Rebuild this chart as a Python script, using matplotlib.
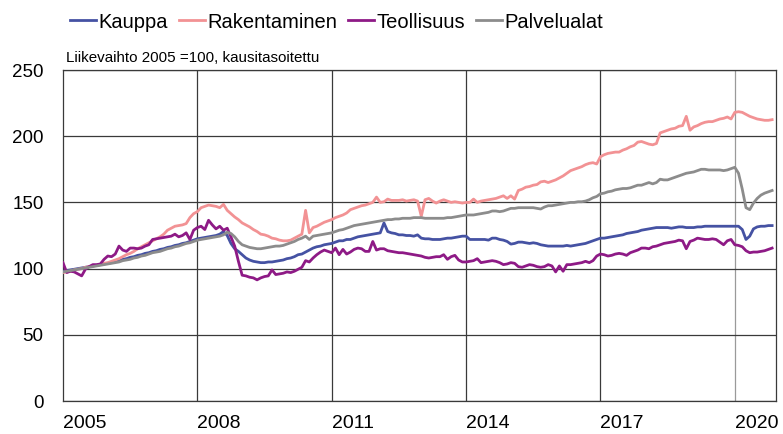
import numpy as np
import matplotlib
matplotlib.use('Agg')
import matplotlib.pyplot as plt

plt.rcParams['font.family'] = ['Liberation Sans', 'DejaVu Sans']

# monthly index values, Jan 2005 - Nov 2020 (2005 = 100, seasonally adjusted)
kauppa = [
    98, 98.5, 99, 99.5, 100, 100.5, 101, 101.5, 102, 102.5, 103, 103.5,
    104, 104.5, 105.5, 106, 107, 107.5, 108.5, 109, 110, 110.5, 111.5, 112,
    113, 113.5, 114.5, 115, 116, 116.5, 117.5, 118, 119, 119.5, 120.5, 121.5,
    122.5, 123, 123.5, 124, 124.5, 125, 126, 128, 125, 119, 115, 113,
    110.5, 108, 106.5, 105.5, 105, 104.5, 104.5, 105, 105, 105.5, 106, 106.5,
    107.5, 108, 109, 110.5, 111, 112.5, 114, 115.5, 116.5, 117, 118, 118.5,
    119, 120, 121, 121, 122, 122, 123, 124, 124.5, 125, 125.5, 126,
    126.5, 127, 134.5, 128, 127, 126.5, 125.5, 125.5, 125, 125, 124.5, 125.5,
    123, 122.5, 122.5, 122, 122, 122, 122.5, 123, 123, 123.5, 124, 124.5,
    124.5, 122, 122, 122, 122, 122, 121.5, 123, 123, 122, 121.5, 120.5,
    118.5, 119, 120, 120, 119.5, 119, 119.5, 119, 118, 117.5, 117, 117,
    117, 117, 117, 117.5, 117, 117.5, 118, 118.5, 119, 120, 121, 122,
    123, 123, 123.5, 124, 124.5, 125, 125.5, 126.5, 127, 127.5, 128, 129,
    129.5, 130, 130.5, 131, 131, 131, 131, 130.5, 131, 131.5, 131.5, 131,
    131, 131, 131.5, 131.5, 132, 132, 132, 132, 132, 132, 132, 132,
    132, 132, 129.5, 122, 124.5, 130, 131.5, 132, 132, 132.5, 132.5,
]
rakentaminen = [
    97, 97.5, 98, 99, 99.5, 100, 101, 101.5, 102, 102.5, 103, 104,
    104.5, 105.5, 106.5, 107.5, 109, 110.5, 111.5, 113, 115, 116.5, 118, 119.5,
    121, 122.5, 124, 126, 129, 130.5, 132, 132.5, 133, 134, 138.5, 141.5,
    143, 146, 147, 148, 147.5, 147, 146, 148.5, 144, 141.5, 139, 137,
    134.5, 133, 131.5, 129.5, 128, 126, 125.5, 124.5, 123, 122.5, 121.5, 121,
    121, 121.5, 123, 124.5, 126, 144, 127, 131, 132, 133.5, 135, 136,
    137, 138.5, 139.5, 140.5, 142, 144.5, 145.5, 146.5, 147.5, 148, 149, 150,
    154, 150, 150.5, 152.5, 151.5, 151.5, 151.5, 152, 151, 151.5, 152, 151,
    139.5, 152, 153, 151, 149.5, 151, 152, 151, 150, 150.5, 150, 149.5,
    150, 150, 152.5, 150, 151, 151.5, 152, 152.5, 153, 154, 155, 153,
    155, 152.5, 159, 160, 161.5, 162, 163, 163.5, 165.5, 166, 165, 166,
    167, 168.5, 170, 172, 174, 175, 176, 177, 178.5, 179.5, 180, 179,
    184.5, 186, 187, 187.5, 188, 188, 189.5, 190.5, 192, 193, 195.5, 196,
    195, 194, 193.5, 194.5, 202.5, 203.5, 204.5, 205.5, 206, 207.5, 208, 215,
    204.5, 207, 208, 209.5, 210.5, 211, 211, 212, 213, 213.5, 214.5, 213,
    218, 218.5, 218, 216.5, 215, 214, 213, 212.5, 212, 212, 212.5,
]
teollisuus = [
    104.5, 97, 98, 97.5, 96, 94.5, 99.5, 101.5, 103, 103, 103.5, 107,
    109.5, 109, 111, 117, 114, 113, 115.5, 115.5, 115, 115.5, 117, 118,
    122, 122.5, 123, 123.5, 124, 124.5, 126, 124, 125, 127, 122, 129,
    131, 132, 129.5, 136.5, 133, 130, 132, 129, 130.5, 124, 117, 105.5,
    95, 94.5, 93.5, 93, 91.5, 93, 94, 94.5, 99, 95.5, 96, 96.5,
    97.5, 97, 98, 99.5, 101, 106, 105, 108, 110.5, 112.5, 114, 113,
    112, 115.5, 110.5, 114.5, 111, 112.5, 114.5, 115.5, 115, 113, 113, 120.5,
    114, 115, 115, 113.5, 113, 112.5, 112, 112, 111.5, 111, 110.5, 110,
    109.5, 108.5, 108, 108.5, 109, 109, 110.5, 107, 109, 110, 106.5, 105,
    105, 105.5, 106, 107.5, 104.5, 105, 105.5, 106, 105.5, 104.5, 103, 103.5,
    104.5, 104, 101.5, 101, 102, 103, 102.5, 101.5, 101, 101.5, 103, 102,
    97.5, 102, 98, 103, 103, 103.5, 104, 104.5, 105.5, 104.5, 106, 109.5,
    111, 110.5, 109.5, 110, 111, 111.5, 111, 110, 112, 113, 114, 115.5,
    115.5, 115, 116.5, 117, 118, 119, 119.5, 120, 120.5, 121.5, 121, 115,
    120.5, 121.5, 123, 122.5, 122, 122, 122.5, 122, 120, 118, 121, 122,
    118, 117.5, 116.5, 113.5, 112, 112.5, 112.5, 113, 113.5, 114.5, 115.5,
]
palvelualat = [
    97.5, 98, 98.5, 99, 99.5, 100, 100.5, 101, 101.5, 102, 102.5, 103,
    103.5, 104, 104.5, 105, 106, 106.5, 107, 108, 108.5, 109.5, 110, 111,
    112, 112.5, 113, 114, 115, 115.5, 116.5, 117, 118, 119, 119.5, 120.5,
    121.5, 122, 122.5, 123, 123.5, 124, 124.5, 125.5, 127.5, 126.5, 124, 120.5,
    118, 117, 116, 115.5, 115, 115, 115.5, 116, 116.5, 117, 117, 117.5,
    118.5, 119.5, 120.5, 122, 123, 124.5, 122, 124.5, 125, 125.5, 126, 126.5,
    127, 128, 129, 129.5, 130.5, 131.5, 132.5, 133, 133.5, 134, 134.5, 135,
    135.5, 136, 136.5, 137, 137, 137.5, 137.5, 138, 138, 138, 138.5, 138.5,
    138.5, 138, 138, 138, 138, 138, 138, 138.5, 138.5, 139, 139.5, 140,
    140.5, 140.5, 140.5, 141, 141.5, 142, 142.5, 143.5, 143.5, 143, 143.5, 144.5,
    145.5, 145.5, 146, 146, 146, 146, 146, 145.5, 145, 146.5, 147.5, 147.5,
    148, 148.5, 149, 149.5, 150, 150, 150.5, 150.5, 151, 152, 153.5, 154.5,
    156.5, 157, 158, 158.5, 159.5, 160, 160.5, 160.5, 161, 162, 163, 163,
    164, 165, 164, 165, 167.5, 167, 167, 168, 169, 170, 171, 172,
    172.5, 173, 174, 175, 175, 174.5, 174.5, 174.5, 174.5, 174, 174.5, 175.5,
    176.5, 172, 160, 146, 144.5, 149.5, 153, 155.5, 157, 158, 159,
]

series_names = ['Kauppa', 'Rakentaminen', 'Teollisuus', 'Palvelualat']
series_colors = ['#4552a3', '#f29294', '#8e1a86', '#8c8c8c']
year_ticks = [2005, 2008, 2011, 2014, 2017, 2020]
value_ticks = [0, 50, 100, 150, 200, 250]

# decimal year of each monthly observation
x = 2005 + np.arange(len(kauppa)) / 12

fig = plt.figure(figsize=(7.83, 4.34), dpi=100)
ax = fig.add_axes([63 / 783, 1 - 401 / 434, 713 / 783, 331 / 434])

for values, name, color in zip(
        [kauppa, rakentaminen, teollisuus, palvelualat],
        series_names, series_colors
):
    ax.plot(x, values, label=name, color=color, linewidth=2.0,
            solid_joinstyle='round', zorder=3)

ax.set_xlim(2005, 2020.92)
ax.set_ylim(0, 250)

ax.set_xticks(year_ticks)
ax.set_xticklabels([str(y) for y in year_ticks], ha='left')
ax.set_yticks(value_ticks)
ax.tick_params(axis='x', length=0, pad=10, labelsize=14, colors='#000000')
ax.tick_params(axis='y', length=0, pad=14, labelsize=13.5, colors='#000000')

# grid in dark grey, last vertical line lighter
ax.grid(axis='y', color='#3a3a3a', linewidth=0.9, zorder=1)
for yr in year_ticks[1:-1]:
    ax.axvline(yr, color='#3a3a3a', linewidth=0.9, zorder=1)
ax.axvline(year_ticks[-1], color='#9a9a9a', linewidth=0.9, zorder=1)

for side in ['left', 'bottom', 'top', 'right']:
    ax.spines[side].set_color('#3a3a3a')
    ax.spines[side].set_linewidth(0.9)

fig.legend(
    loc='center left', bbox_to_anchor=(70 / 783, 1 - 22 / 434),
    ncol=4, frameon=False, fontsize=14.5, handlelength=1.3,
    handletextpad=0.1, columnspacing=0.55, borderpad=0, borderaxespad=0
)

fig.text(66 / 783, 1 - 58 / 434, 'Liikevaihto 2005 =100, kausitasoitettu',
         fontsize=10.9, va='center', ha='left')

fig.savefig('out.png', dpi=100)
plt.close()
